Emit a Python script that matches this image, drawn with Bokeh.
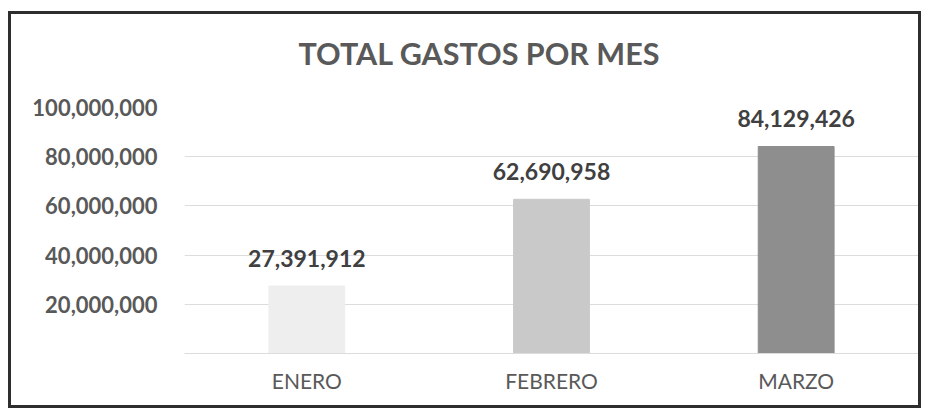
from bokeh.plotting import figure
from bokeh.models import ColumnDataSource, FactorRange, Range1d, FixedTicker, NumeralTickFormatter, Title
from bokeh.core.properties import value
from bokeh.embed import file_html
from bokeh.resources import INLINE

# Data
months = ["ENERO", "FEBRERO", "MARZO"]
totals = [27391912, 62690958, 84129426]
bar_colors = ["#eeeeee", "#c9c9c9", "#8e8e8e"]
y_ticks = [20000000, 40000000, 60000000, 80000000, 100000000]
title_text = "TOTAL GASTOS POR MES"

FONT = "Lato"
labels = [f"{v:,}" for v in totals]
src = ColumnDataSource(dict(x=months, y=totals, c=bar_colors, lab=labels))

p = figure(width=907, height=391, x_range=FactorRange(*months, range_padding=0),
           y_range=Range1d(0, 100000000), output_backend="svg", toolbar_location=None,
           min_border_left=173, min_border_right=6, min_border_top=93, min_border_bottom=58,
           title=title_text)
p.margin = (11, 0, 0, 8)
p.styles = {"border": "3px solid #2e2e2e", "box-sizing": "content-box"}
p.outline_line_color = None
p.background_fill_color = "white"
p.border_fill_color = "white"

# chart title (outermost) and an invisible spacer between it and the plot frame
p.title.align = "left"
p.title.offset = 114
p.title.vertical_align = "top"
p.title.standoff = 0
p.title.text_font = FONT
p.title.text_font_size = "30.5px"
p.title.text_font_style = "bold"
p.title.text_color = "#595959"
spacer = Title(text=" ", text_font_size="2px", standoff=31, text_color="white")
p.add_layout(spacer, "above")

p.vbar(x="x", top="y", width=0.31, color="c", source=src)
p.text(x="x", y="y", text="lab", source=src, text_align="center", text_baseline="alphabetic",
       y_offset=-28, text_font=value(FONT), text_font_style="bold", text_font_size="23px",
       text_color="#404040")

p.yaxis.ticker = FixedTicker(ticks=y_ticks)
p.yaxis.formatter = NumeralTickFormatter(format="0,0")
p.yaxis.axis_line_color = None
p.yaxis.major_tick_line_color = None
p.yaxis.minor_tick_line_color = None
p.yaxis.major_tick_out = 0
p.yaxis.major_label_standoff = 27
p.yaxis.major_label_text_font = FONT
p.yaxis.major_label_text_font_style = "bold"
p.yaxis.major_label_text_font_size = "22px"
p.yaxis.major_label_text_color = "#595959"

p.xaxis.axis_line_color = "#dcdcdc"
p.xaxis.major_tick_line_color = None
p.xaxis.minor_tick_line_color = None
p.xaxis.major_tick_out = 0
p.xaxis.major_label_standoff = 14
p.xaxis.major_label_text_font = FONT
p.xaxis.major_label_text_font_size = "21px"
p.xaxis.major_label_text_color = "#595959"

p.xgrid.grid_line_color = None
p.ygrid.grid_line_color = "#dcdcdc"
p.ygrid.ticker = FixedTicker(ticks=y_ticks)

open("out.html", "w").write(file_html(p, INLINE))
